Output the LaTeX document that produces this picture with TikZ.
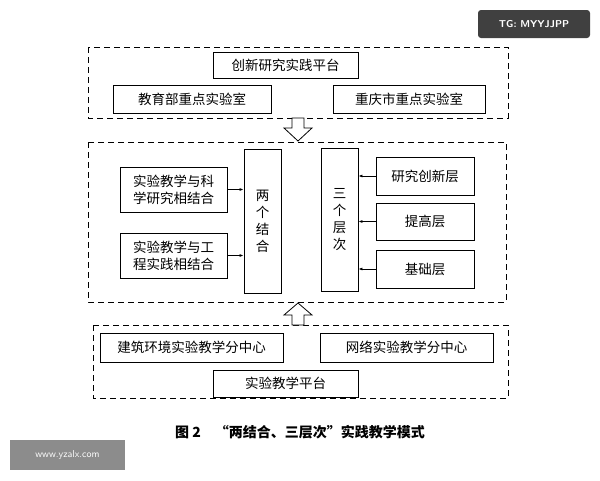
\documentclass[tikz,border=0pt]{standalone}
\usepackage{fontspec}
\newfontfamily\cjk{Noto Sans CJK SC}
\usetikzlibrary{positioning,arrows.meta}
\begin{document}
\begin{tikzpicture}[x=1pt,y=-1pt,
	box/.style={draw, thick, font=\cjk\fontsize{13.5}{17}\selectfont, align=center, inner sep=0pt},
	group/.style={draw, thick, dashed, dash pattern=on 6pt off 4pt},
	feed/.style={-{Latex[length=4pt]}, thick}]
	% Parameters
	\def\lx{120}
	\def\lw{107}
	\def\rx{376}
	\def\rw{98}
	
	\useasboundingbox (0,0) rectangle (600,480);
	
	%groups
	\draw[group] (88,47) rectangle (508,118);
	\draw[group] (88,142) rectangle (506,302);
	\draw[group] (93,325) rectangle (508,398);
	
	%upper platform
	\node[box, minimum width=145pt, minimum height=26pt] (cxpt) at (285.5,65) {创新研究实践平台};
	\node[box, minimum width=158pt, minimum height=28pt] (jyb) at (192,99) {教育部重点实验室};
	\node[box, minimum width=152pt, minimum height=28pt] (cqs) at (409,99) {重庆市重点实验室};
	
	%middle
	\node[box, minimum width=\lw pt, minimum height=45pt] (kxyj) at (\lx+\lw/2,189.5) {实验教学与科\\学研究相结合};
	\node[box, minimum width=\lw pt, minimum height=45pt] (gcsj) at (\lx+\lw/2,255.5) {实验教学与工\\程实践相结合};
	\node[box, minimum width=37pt, minimum height=144pt] (lgjh) at (262.5,221) {两\\个\\结\\合};
	\node[box, minimum width=37pt, minimum height=143pt] (sgcc) at (339.5,219.5) {三\\个\\层\\次};
	\node[box, minimum width=\rw pt, minimum height=38pt] (yjcx) at (\rx+\rw/2,176) {研究创新层};
	\node[box, minimum width=\rw pt, minimum height=37pt] (tgc) at (\rx+\rw/2,221.5) {提高层};
	\node[box, minimum width=\rw pt, minimum height=38pt] (jcc) at (\rx+\rw/2,269) {基础层};
	
	\draw[feed] (kxyj) -- (kxyj -| lgjh.west);
	\draw[feed] (gcsj) -- (gcsj -| lgjh.west);
	\foreach \n in {yjcx,tgc,jcc} {
		\draw[feed] (\n) -- (\n -| sgcc.east);
	}
	
	%lower platform
	\node[box, minimum width=183pt, minimum height=29pt] (jzhj) at (191.5,347.5) {建筑环境实验教学分中心};
	\node[box, minimum width=173pt, minimum height=29pt] (wlsy) at (406.5,347.5) {网络实验教学分中心};
	\node[box, minimum width=145pt, minimum height=27pt] (sypt) at (285.5,383.5) {实验教学平台};
	
	%hollow arrows
	\draw[thick, fill=white] (292,118) -- (304,118) -- (304,128) -- (312,128) -- (298,141) -- (284,128) -- (292,128) -- cycle;
	\draw[thick, fill=white] (292,325) -- (304,325) -- (304,315) -- (312,315) -- (298,303) -- (284,315) -- (292,315) -- cycle;
	
	%caption
	\node[font=\cjk\bfseries\fontsize{14}{17}\selectfont] (cap) at (300,432) {图 2\quad “两结合、三层次”实践教学模式};
	
	%marks
	\node[fill=black!75, text=white, rounded corners=3pt, font=\sffamily\bfseries\fontsize{10}{12}\selectfont, minimum width=112pt, minimum height=28pt] (tg) at (534,24) {TG: MYYJJPP};
	\node[fill=black!45, text=white, font=\sffamily\fontsize{10}{12}\selectfont, minimum width=115pt, minimum height=30pt] (www) at (67.5,455) {www.yzalx.com};
\end{tikzpicture}
\end{document}
